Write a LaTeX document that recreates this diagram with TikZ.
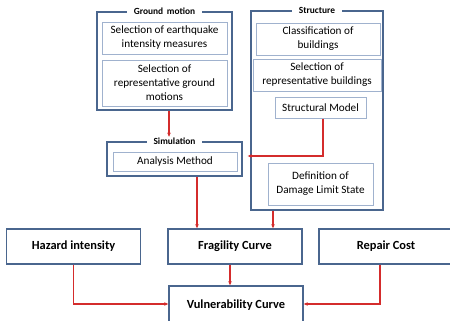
\documentclass[tikz,border=0pt]{standalone}
\usepackage{fontspec}
\setmainfont{Carlito}
\usetikzlibrary{arrows.meta,calc}
\definecolor{outerblue}{RGB}{74,102,142}
\definecolor{innerblue}{RGB}{160,178,206}
\definecolor{arrowred}{RGB}{212,44,44}
\tikzset{
  outerbox/.style={draw=outerblue,line width=1.4pt,inner sep=0pt},
  innerbox/.style={draw=innerblue,line width=0.9pt,inner sep=0pt,align=center,font=\fontsize{11.2}{14}\selectfont},
  mainbox/.style={draw=outerblue,line width=1.4pt,inner sep=0pt,minimum width=134pt,minimum height=35pt,font=\fontsize{12.4}{14}\selectfont\bfseries},
  grouptitle/.style={fill=white,inner xsep=7pt,inner ysep=1pt,font=\fontsize{9.4}{11}\selectfont\bfseries},
  redarrow/.style={draw=arrowred,line width=1.1pt,-{Stealth[length=4pt,width=3.5pt]}}
}
\begin{document}
\begin{tikzpicture}[x=1pt,y=-1pt]
\useasboundingbox (0,0) rectangle (450,321);
% group frames
\node[outerbox,minimum width=135pt,minimum height=98pt] (gm) at (164.5,61) {};
\node[outerbox,minimum width=132pt,minimum height=199pt] (st) at (317,110.5) {};
\node[outerbox,minimum width=135pt,minimum height=34pt] (sim) at (174.5,159) {};
% inner boxes
\node[innerbox,minimum width=125pt,minimum height=32pt] (eq) at (164.5,38) {Selection of earthquake\\intensity measures};
\node[innerbox,minimum width=125pt,minimum height=46pt] (rgm) at (164.5,83) {Selection of\\representative ground\\motions};
\node[innerbox,minimum width=124pt,minimum height=32pt] (cls) at (318,39) {Classification of\\buildings};
\node[innerbox,minimum width=128pt,minimum height=32pt] (selb) at (317,75) {Selection of\\representative buildings};
\node[innerbox,minimum width=91pt,minimum height=21pt,anchor=north] (sm) at (320.5,97) {Structural Model};
\node[innerbox,minimum width=105pt,minimum height=42pt] (dls) at (320.5,184) {Definition of\\Damage Limit State};
\node[innerbox,minimum width=124pt,minimum height=19pt] (am) at (175,161.5) {Analysis Method};
% titles
\node[grouptitle] (gmt) at (gm.north) {Ground\, motion};
\node[grouptitle] (stt) at (st.north) {Structure};
\node[grouptitle] (simt) at (sim.north) {Simulation};
% main boxes
\node[mainbox] (haz) at (73.5,246.5) {Hazard intensity};
\node[mainbox] (frag) at (235,246.5) {Fragility Curve};
\node[mainbox] (rep) at (386,246.5) {Repair Cost};
\node[mainbox,minimum height=38pt] (vul) at (236,305) {Vulnerability Curve};
% connectors
\draw[redarrow] ($(gm.south)+(4.5,0)$) -- ($(simt.north)+(-5.5,0)$);
\draw[redarrow,shorten >=5pt] ($(sm.south)+(2.5,0)$) |- ($(sim.east)+(0,-3)$);
\draw[redarrow] ($(sim.south)+(22.5,0)$) -- ($(frag.north)+(-38,0)$);
\draw[redarrow] ($(st.south)+(-44,0)$) -- ($(frag.north)+(38,0)$);
\draw[redarrow] (haz.south) |- ($(vul.west)+(0,-1)$);
\draw[redarrow] ($(frag.south)+(-5,0)$) -- ($(vul.north)+(-6,0)$);
\draw[redarrow] ($(rep.south)+(-6,0)$) |- ($(vul.east)+(0,-1)$);
\end{tikzpicture}
\end{document}
